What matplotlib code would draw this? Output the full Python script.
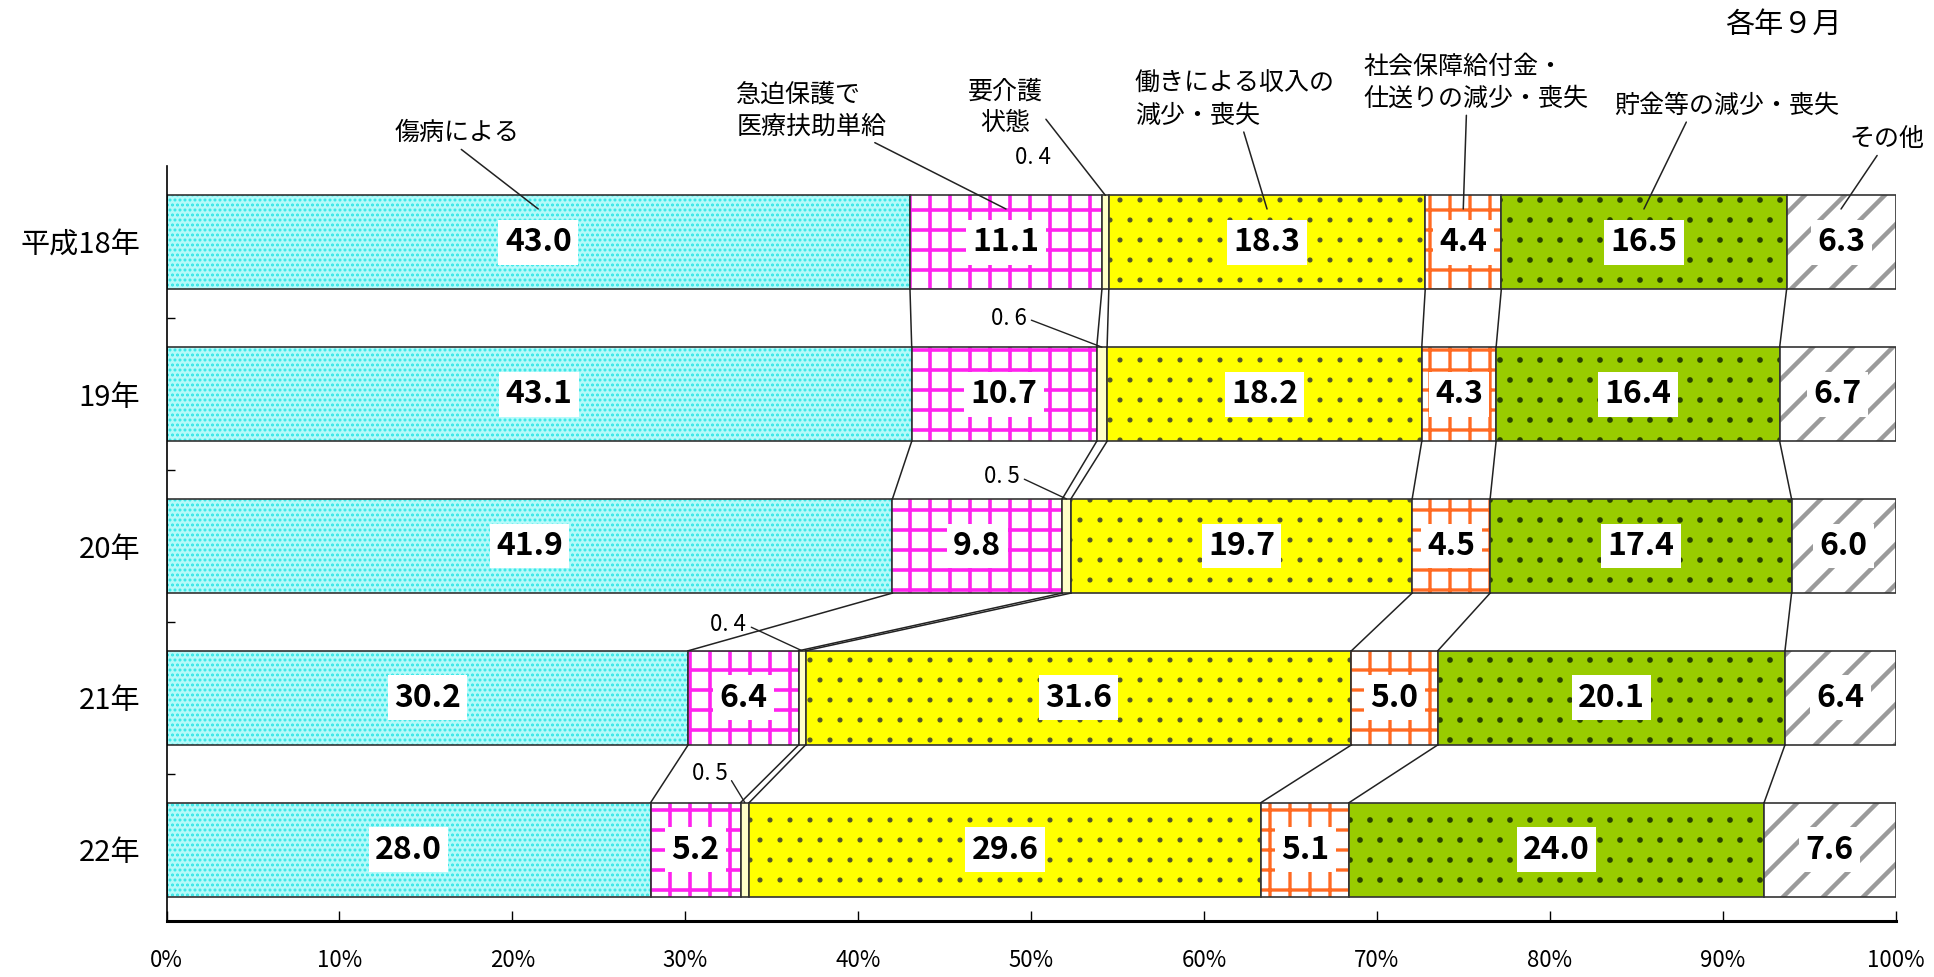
import matplotlib
matplotlib.use("Agg")
import matplotlib.pyplot as plt
import numpy as np

plt.rcParams['font.family'] = ['Noto Sans CJK JP', 'DejaVu Sans']
plt.rcParams['hatch.linewidth'] = 2.0

years = ["平成18年", "19年", "20年", "21年", "22年"]
categories = ["傷病による", "急迫保護で\n医療扶助単給", "要介護\n状態", "働きによる収入の\n減少・喪失",
              "社会保障給付金・\n仕送りの減少・喪失", "貯金等の減少・喪失", "その他"]
shoubyou = [43.0, 43.1, 41.9, 30.2, 28.0]
iryou = [11.1, 10.7, 9.8, 6.4, 5.2]
kaigo = [0.4, 0.6, 0.5, 0.4, 0.5]
hataraki = [18.3, 18.2, 19.7, 31.6, 29.6]
shakai = [4.4, 4.3, 4.5, 5.0, 5.1]
chokin = [16.5, 16.4, 17.4, 20.1, 24.0]
sonota = [6.3, 6.7, 6.0, 6.4, 7.6]
xticks = [0, 10, 20, 30, 40, 50, 60, 70, 80, 90, 100]

DPI = 120
S = 100 / DPI  # keep sizes as they were tuned at 100 dpi

# face colour, hatch, hatch colour, hatch width
styles = [
    ("#b4fafa", "....", "#2ee6e6", 1.4),
    ("white", "+", "#ff22ee", 2.6),
    ("#ffffc8", "", "#ffffc8", 1.0),
    ("#ffff00", ".", "#55552a", 0.8),
    ("white", "+", "#ff6a22", 2.4),
    ("#99cc00", ".", "#2a4200", 1.2),
    ("white", "/", "#9a9a9a", 3.2),
]

data = np.array([shoubyou, iryou, kaigo, hataraki, shakai, chokin, sonota]).T
raw = data.copy()
data = data / data.sum(axis=1, keepdims=True) * 100
cum = np.cumsum(data, axis=1)
left = cum - data
n_rows = len(years)
y = np.arange(n_rows)
h = 0.62

fig = plt.figure(figsize=(1934 / DPI, 977 / DPI), dpi=DPI)
ax = fig.add_axes([0.0861, 0.0573, 0.894, 0.7723])

for k, (fc, hatch, hc, hw) in enumerate(styles):
    bars = ax.barh(y, data[:, k], left=left[:, k], height=h, color=fc, hatch=hatch,
                   edgecolor=hc, linewidth=0)
    for b in bars:
        if hasattr(b, "set_hatch_linewidth"):
            b.set_hatch_linewidth(hw * S)
    ax.barh(y, data[:, k], left=left[:, k], height=h, fill=False,
            edgecolor="#333333", linewidth=1.2 * S)

for i in range(n_rows):
    for k in range(raw.shape[1]):
        if k == 2:
            continue
        ax.text(left[i, k] + data[i, k] / 2, y[i], f"{raw[i, k]:.1f}", ha="center", va="center",
                fontsize=23 * S, fontweight="bold",
                bbox=dict(facecolor="white", edgecolor="none", pad=4.5 * S))

# connector lines between bars
for i in range(n_rows - 1):
    for k in range(raw.shape[1] - 1):
        ax.plot([cum[i, k], cum[i + 1, k]], [y[i] + h / 2, y[i + 1] - h / 2],
                color="#222222", lw=1.1 * S)

# category labels at top
label_pos = [(16.8, -0.72, "center", (0.5, 0.0)),
             (32.95, -0.87, "left", (0.88, 0.0)),
             (48.5, -0.89, "center", (0.95, 0.45)),
             (56.0, -0.94, "left", (0.54, 0.0)),
             (69.2, -1.05, "left", (0.46, 0.0)),
             (83.7, -0.90, "left", (0.33, 0.0)),
             (99.5, -0.68, "center", (0.4, 0.0))]
for k, (tx, ty, ha, rel) in enumerate(label_pos):
    end_y = y[0] - h / 2 if k == 2 else y[0] - h / 2 + 0.09
    ax.annotate(categories[k], xy=(left[0, k] + data[0, k] / 2, end_y), xytext=(tx, ty),
                ha=ha, va="center", fontsize=18 * S,
                multialignment="center" if ha == "center" else "left",
                annotation_clip=False, linespacing=1.3,
                arrowprops=dict(arrowstyle="-", color="#222222", lw=1.1 * S, relpos=rel,
                                shrinkA=0, shrinkB=0))

# small values for 要介護
small_pos = [(50.1, -0.56), (48.7, 0.50), (48.3, 1.545), (32.5, 2.52), (31.4, 3.50)]
for i, (tx, ty) in enumerate(small_pos):
    txt = f"{raw[i, 2]:.1f}".replace(".", ". ")
    if i == 0:
        ax.text(tx, ty, txt, ha="center", va="center", fontsize=16 * S, clip_on=False)
    else:
        ax.annotate(txt, xy=(left[i, 2] + data[i, 2] / 2, y[i] - h / 2), xytext=(tx, ty),
                    ha="center", va="center", fontsize=16 * S, annotation_clip=False,
                    arrowprops=dict(arrowstyle="-", color="#222222", lw=1.0 * S, relpos=(1.0, 0.5),
                                    shrinkA=1, shrinkB=0))

fig.text(0.9525, 0.975, "各年９月", ha="right", va="center", fontsize=21 * S)

ax.set_xlim(0, 100)
ax.set_ylim(n_rows - 0.53, -0.5)
ax.set_xticks(xticks)
ax.set_xticklabels([f"{t}%" for t in xticks], fontsize=16 * S)
ax.tick_params(axis="x", direction="in", length=7 * S, pad=20 * S, width=1 * S)
ax.set_yticks(y)
ax.set_yticklabels(years, fontsize=21 * S)
ax.tick_params(axis="y", length=0, pad=19 * S)
ax.set_yticks(np.arange(n_rows - 1) + 0.5, minor=True)
ax.tick_params(axis="y", which="minor", direction="in", length=6 * S, width=1 * S)
for s in ["top", "right"]:
    ax.spines[s].set_visible(False)
ax.spines["bottom"].set_linewidth(2.2 * S)
ax.spines["left"].set_linewidth(1.2 * S)

fig.savefig("out.png", dpi=DPI)
